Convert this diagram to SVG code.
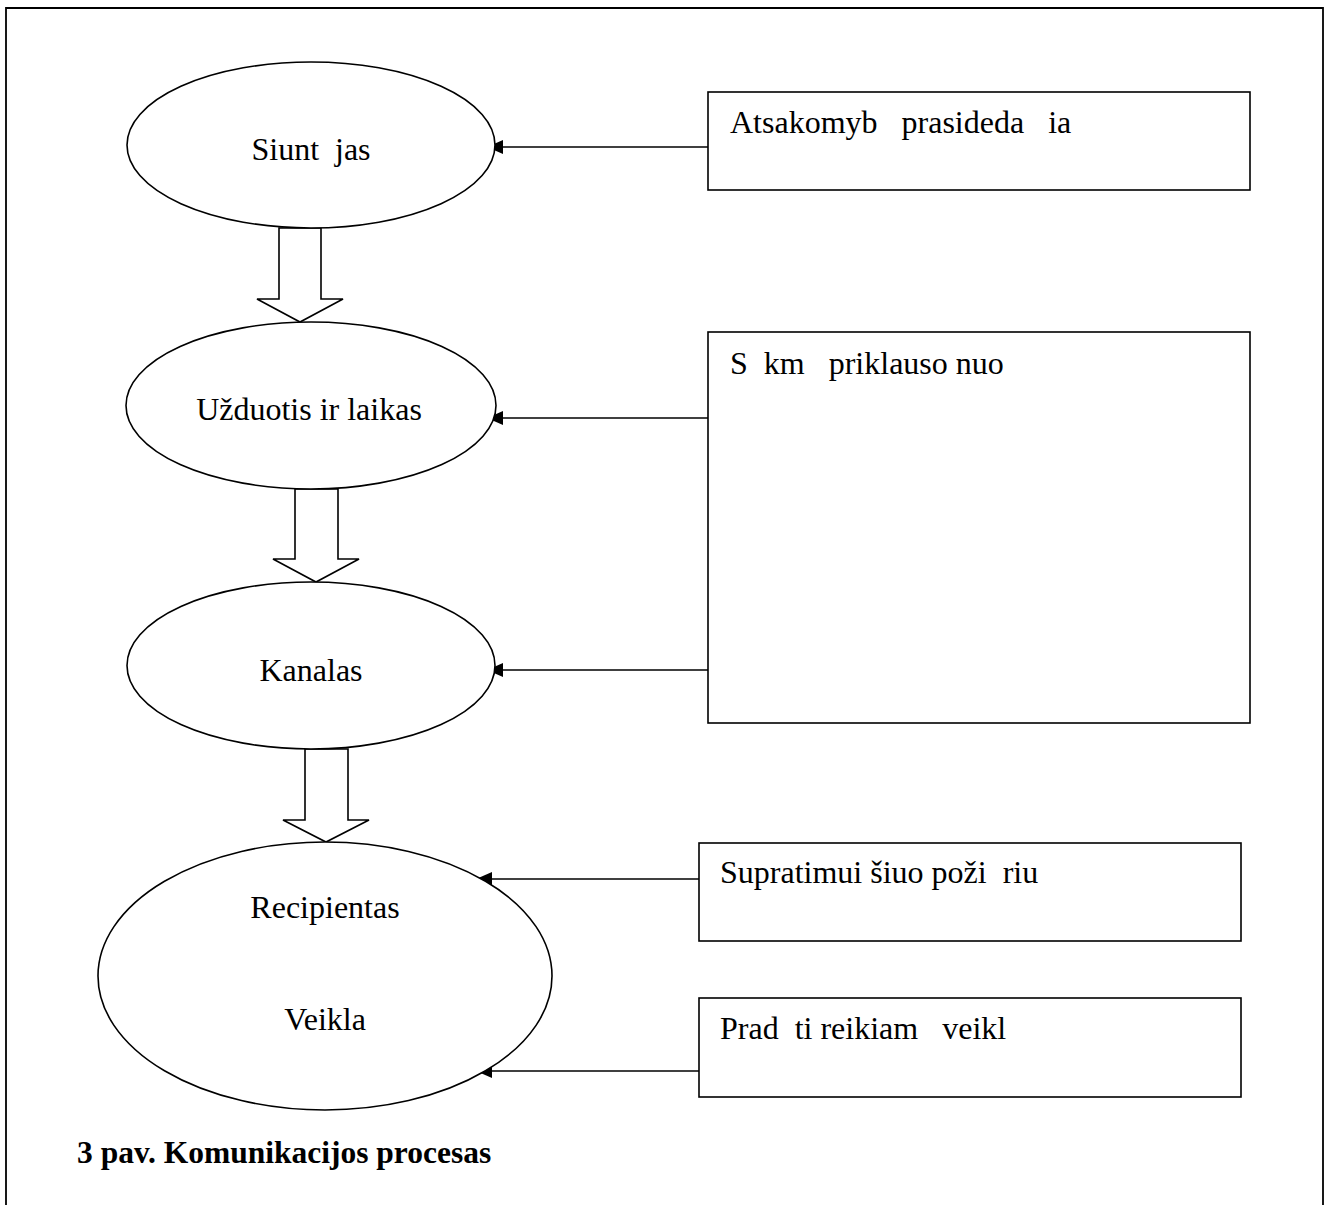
<svg xmlns="http://www.w3.org/2000/svg" width="1329" height="1205" viewBox="0 0 1329 1205">
<style>
.sh{fill:#fff;stroke:#000;stroke-width:1.6}
.bd{fill:none;stroke:#000;stroke-width:1.8}
.t{font-family:"Liberation Serif","Times New Roman",serif;font-size:32px;fill:#000;white-space:pre}
.c{text-anchor:middle}
.b{font-weight:bold;font-size:31.5px}
.cn{fill:none;stroke:#000;stroke-width:1.6}
.ba{fill:#fff;stroke:#000;stroke-width:1.6;stroke-linejoin:miter}
</style>
<defs>
<marker id="ah" markerUnits="userSpaceOnUse" markerWidth="18" markerHeight="16" refX="16" refY="7" orient="auto">
<path d="M0,0 L16,7 L0,14 z" fill="#000"/>
</marker>
</defs>
<rect width="1329" height="1205" fill="#fff"/>
<g id="frame">
<path class="bd" d="M6,1205 V8 H1323 V1205"/>
</g>
<g id="connectors">
<line class="cn" x1="708" y1="147" x2="487" y2="147" marker-end="url(#ah)"/>
<line class="cn" x1="708" y1="418" x2="487" y2="418" marker-end="url(#ah)"/>
<line class="cn" x1="708" y1="670" x2="487" y2="670" marker-end="url(#ah)"/>
<line class="cn" x1="699" y1="879" x2="476" y2="879" marker-end="url(#ah)"/>
<line class="cn" x1="699" y1="1071" x2="476" y2="1071" marker-end="url(#ah)"/>
<polygon class="ba" points="279,228 321,228 321,299 343,299 300,322 257,299 279,299"/>
<polygon class="ba" points="295,489 338,489 338,559 359,559 316,582 273,559 295,559"/>
<polygon class="ba" points="305,749 348,749 348,820 369,820 326,842 283,820 305,820"/>
</g>
<g id="n-siuntejas">
<ellipse class="sh" cx="311" cy="145" rx="184" ry="83"/>
<text class="t c" x="311" y="160">Siunt  jas</text>
</g>
<g id="n-uzduotis">
<ellipse class="sh" cx="311" cy="405.5" rx="185" ry="83.5"/>
<text class="t c" x="309" y="420">Užduotis ir laikas</text>
</g>
<g id="n-kanalas">
<ellipse class="sh" cx="311" cy="665.5" rx="184" ry="83.5"/>
<text class="t c" x="311" y="681">Kanalas</text>
</g>
<g id="n-recipientas">
<ellipse class="sh" cx="325" cy="976" rx="227" ry="134"/>
<text class="t c" x="325" y="918">Recipientas</text>
<text class="t c" x="325" y="1030">Veikla</text>
</g>
<g id="n-atsakomybe">
<rect class="sh" x="708" y="92" width="542" height="98"/>
<text class="t" x="730" y="133">Atsakomyb   prasideda   ia</text>
</g>
<g id="n-sekme">
<rect class="sh" x="708" y="332" width="542" height="391"/>
<text class="t" x="730" y="374">S  km   priklauso nuo</text>
</g>
<g id="n-supratimui">
<rect class="sh" x="699" y="843" width="542" height="98"/>
<text class="t" x="720" y="883">Supratimui šiuo poži  riu</text>
</g>
<g id="n-pradeti">
<rect class="sh" x="699" y="998" width="542" height="99"/>
<text class="t" x="720" y="1039">Prad  ti reikiam   veikl</text>
</g>
<g id="caption">
<text class="t b" x="77" y="1163">3 pav. Komunikacijos procesas</text>
</g>
</svg>
